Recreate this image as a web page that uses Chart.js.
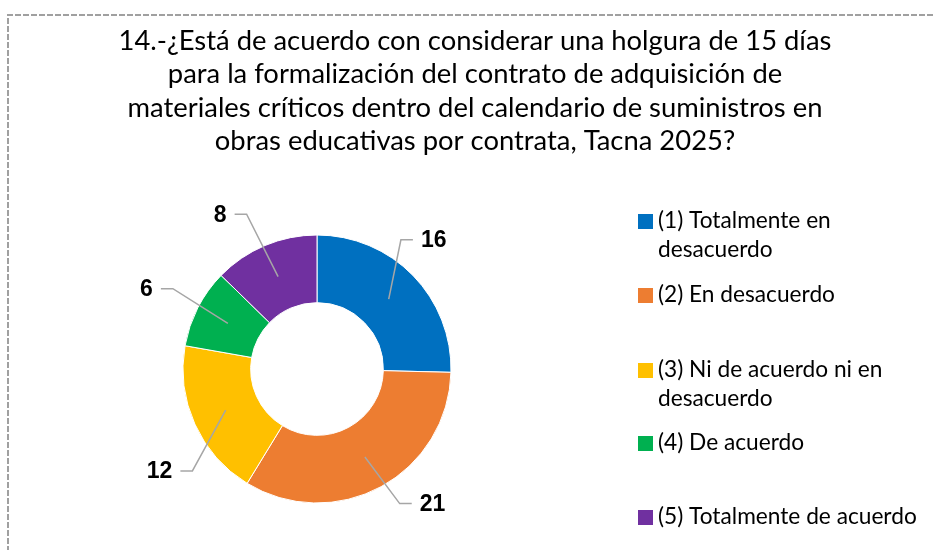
<!DOCTYPE html>
<html>
<head>
<meta charset="utf-8">
<script src="https://cdn.jsdelivr.net/npm/chart.js@4.4.0/dist/chart.umd.min.js"></script>
<style>
    html, body { margin: 0; padding: 0; background: #fff; overflow: hidden; }
    #wrap { position: relative; width: 935px; height: 550px; }
</style>
</head>
<body>
<div id="wrap"><canvas id="chart" width="935" height="550"></canvas></div>
<script>
// Chart data
const titleLines = [
    '14.-¿Está de acuerdo con considerar una holgura de 15 días',
    'para la formalización del contrato de adquisición de',
    'materiales críticos dentro del calendario de suministros en',
    'obras educativas por contrata, Tacna 2025?'
];
const categories = [
    '(1) Totalmente en desacuerdo',
    '(2) En desacuerdo',
    '(3) Ni de acuerdo ni en desacuerdo',
    '(4) De acuerdo',
    '(5) Totalmente de acuerdo'
];
const counts = [16, 21, 12, 6, 8];
const sliceColors = ['#0070C0', '#ED7D31', '#FFC000', '#00B050', '#7030A0'];

const FONT = 'Lato, "Liberation Sans", sans-serif';

// leader line elbows: angle nudge (degrees) and distance past the ring, like Excel places them
const labelShift = [-12.7, -3, -15, 2, -1.6];
const labelReach = [20, 24, 27, 31, 36];

const decorPlugin = {
    id: 'decor',
    beforeDraw(chart) {
        const ctx = chart.ctx;
        ctx.save();
        // dashed frame (only top and left are inside the picture)
        ctx.strokeStyle = '#a0a0a0';
        ctx.lineWidth = 2;
        ctx.setLineDash([6, 2]);
        ctx.beginPath();
        ctx.moveTo(8, 560);
        ctx.lineTo(8, 15);
        ctx.lineTo(940, 15);
        ctx.stroke();
        ctx.setLineDash([]);

        // title
        ctx.fillStyle = '#000';
        ctx.font = '27.4px ' + FONT;
        ctx.textAlign = 'center';
        ctx.textBaseline = 'alphabetic';
        titleLines.forEach((line, i) => {
            ctx.fillText(line, 475, 50 + i * 33.3);
        });
        ctx.restore();
    },
    afterDraw(chart) {
        const ctx = chart.ctx;
        const meta = chart.getDatasetMeta(0);
        ctx.save();

        // data labels with leader lines
        meta.data.forEach((arc, i) => {
            const p = arc.getProps(['x', 'y', 'startAngle', 'endAngle', 'innerRadius', 'outerRadius'], true);
            const mid = (p.startAngle + p.endAngle) / 2;
            const rMid = (p.innerRadius + p.outerRadius) / 2;
            const sx = p.x + Math.cos(mid) * rMid;
            const sy = p.y + Math.sin(mid) * rMid;
            const a2 = mid + labelShift[i] * Math.PI / 180;
            const r2 = p.outerRadius + labelReach[i];
            const ex = p.x + Math.cos(a2) * r2;
            const ey = p.y + Math.sin(a2) * r2;
            const right = ex > p.x;
            const hx = ex + (right ? 12 : -12);

            ctx.strokeStyle = '#a6a6a6';
            ctx.lineWidth = 1.5;
            ctx.beginPath();
            ctx.moveTo(sx, sy);
            ctx.lineTo(ex, ey);
            ctx.lineTo(hx, ey);
            ctx.stroke();

            ctx.fillStyle = '#000';
            ctx.font = 'bold 23px "Liberation Sans", Arial, sans-serif';
            ctx.textAlign = right ? 'left' : 'right';
            ctx.textBaseline = 'middle';
            ctx.fillText(String(counts[i]), hx + (right ? 8 : -8), ey + 1);
        });

        // legend on the right
        const lx = 638;
        const rows = [221, 295, 370, 443, 517];
        ctx.font = '22.7px ' + FONT;
        ctx.textAlign = 'left';
        ctx.textBaseline = 'middle';
        categories.forEach((label, i) => {
            ctx.fillStyle = sliceColors[i];
            ctx.fillRect(lx, rows[i] - 7, 15, 15);
            ctx.fillStyle = '#000';
            const lines = wrapText(ctx, label, 275);
            lines.forEach((line, j) => {
                ctx.fillText(line, lx + 20, rows[i] + j * 29);
            });
        });
        ctx.restore();
    }
};

function wrapText(ctx, text, maxWidth) {
    const words = text.split(' ');
    const lines = [];
    let current = '';
    words.forEach(word => {
        const test = current ? current + ' ' + word : word;
        if (ctx.measureText(test).width > maxWidth && current) {
            lines.push(current);
            current = word;
        } else {
            current = test;
        }
    });
    if (current) lines.push(current);
    return lines;
}

const ctx = document.getElementById('chart');
new Chart(ctx, {
    type: 'doughnut',
    data: {
        labels: categories,
        datasets: [{
            data: counts,
            backgroundColor: sliceColors,
            borderColor: '#ffffff',
            borderWidth: 1,
            radius: 134,
            cutout: '49.5%',
        }],
    },
    options: {
        responsive: false,
        animation: false,
        layout: {
            padding: { left: 0, right: 301, top: 198, bottom: 10 },
        },
        plugins: {
            legend: { display: false },
            title: { display: false },
            tooltip: { enabled: false },
        },
    },
    plugins: [decorPlugin],
});
</script>
</body>
</html>
